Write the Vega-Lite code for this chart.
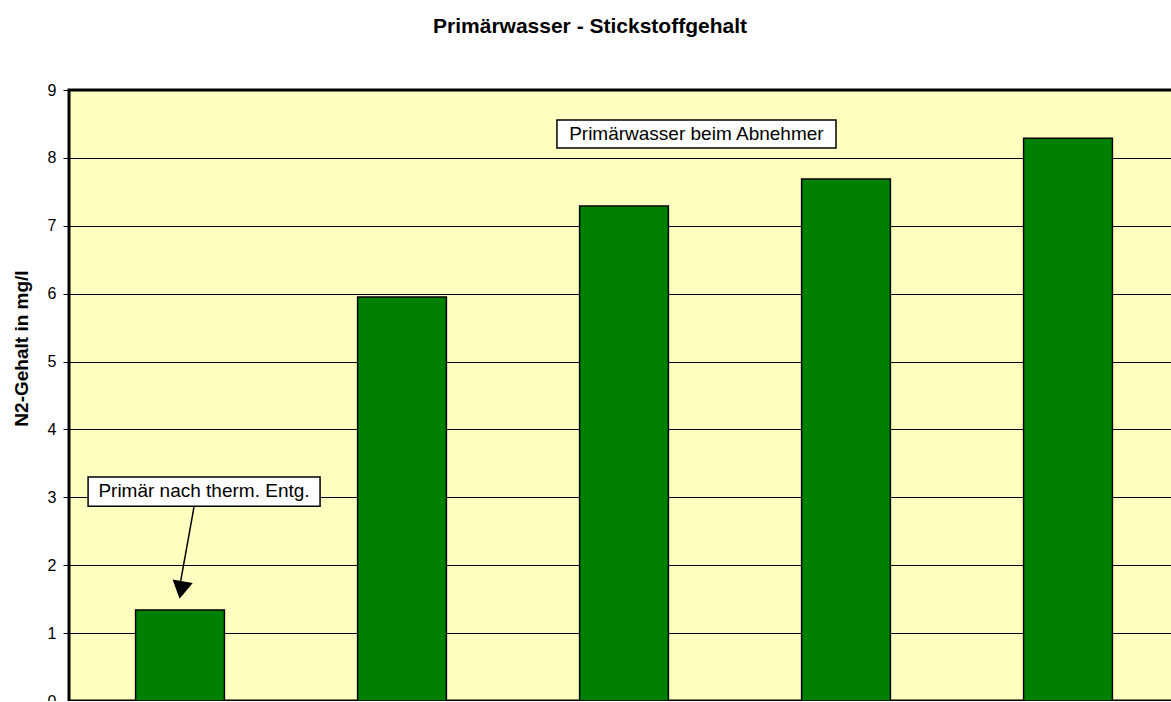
{
  "$schema": "https://vega.github.io/schema/vega-lite/v6.json",
  "autosize": "none",
  "padding": {"left": 69, "top": 90, "right": 0, "bottom": 0},
  "width": 1110,
  "height": 611,
  "background": "white",
  "config": {
    "font": "Liberation Sans",
    "view": {"fill": "#FFFFC0", "stroke": "black", "strokeWidth": 3}
  },
  "title": {
    "text": "Primärwasser - Stickstoffgehalt",
    "font": "Liberation Sans",
    "fontSize": 21,
    "fontWeight": "bold",
    "color": "black",
    "anchor": "middle",
    "frame": "group",
    "dx": -34,
    "baseline": "alphabetic",
    "offset": 28
  },
  "layer": [
    {
      "data": {"values": [
        {"Probe": "1", "N2": 1.34},
        {"Probe": "2", "N2": 5.95},
        {"Probe": "3", "N2": 7.29},
        {"Probe": "4", "N2": 7.69},
        {"Probe": "5", "N2": 8.29}
      ]},
      "mark": {"type": "bar", "fill": "#008000", "stroke": "black", "strokeWidth": 1.5},
      "encoding": {
        "x": {
          "field": "Probe", "type": "nominal", "sort": null,
          "scale": {"paddingInner": 0.6, "paddingOuter": 0.3},
          "axis": {"labels": false, "title": null, "domain": false, "bandPosition": 0, "tickSize": -5, "tickColor": "black", "tickWidth": 1, "grid": false}
        },
        "y": {
          "field": "N2", "type": "quantitative",
          "scale": {"domain": [0, 9], "nice": false},
          "axis": {
            "title": "N2-Gehalt in mg/l",
            "titleFont": "Liberation Sans", "titleFontSize": 19, "titleFontWeight": "bold", "titleColor": "black",
            "titlePadding": 16,
            "titleY": 258,
            "values": [0, 1, 2, 3, 4, 5, 6, 7, 8, 9],
            "format": "d",
            "labelFont": "Liberation Sans", "labelFontSize": 16, "labelColor": "black", "labelPadding": 7,
            "tickSize": 6, "tickColor": "black", "tickWidth": 1,
            "domain": false,
            "grid": true, "gridColor": "black", "gridOpacity": 1, "gridWidth": 1
          }
        }
      }
    },
    {
      "data": {"values": [
        {"x1": 2.198, "x2": 3.455, "y1": 8.558, "y2": 8.146},
        {"x1": 0.086, "x2": 1.131, "y1": 3.30, "y2": 2.87}
      ]},
      "mark": {"type": "rect", "fill": "white", "stroke": "black", "strokeWidth": 1.5},
      "encoding": {
        "x": {"field": "x1", "type": "quantitative", "scale": {"domain": [0, 5], "nice": false, "zero": false}, "axis": null},
        "x2": {"field": "x2"},
        "y": {"field": "y1", "type": "quantitative", "scale": {"domain": [0, 9], "nice": false}},
        "y2": {"field": "y2"}
      }
    },
    {
      "data": {"values": [
        {"tx": 2.826, "ty": 8.352, "label": "Primärwasser beim Abnehmer"},
        {"tx": 0.608, "ty": 3.086, "label": "Primär nach therm. Entg."}
      ]},
      "mark": {"type": "text", "font": "Liberation Sans", "fontSize": 19, "color": "black", "align": "center", "baseline": "middle"},
      "encoding": {
        "x": {"field": "tx", "type": "quantitative", "scale": {"domain": [0, 5], "nice": false, "zero": false}, "axis": null},
        "y": {"field": "ty", "type": "quantitative", "scale": {"domain": [0, 9], "nice": false}},
        "text": {"field": "label"}
      }
    },
    {
      "data": {"values": [
        {"ax": 0.563, "ay": 2.857, "bx": 0.5, "by": 1.709}
      ]},
      "mark": {"type": "rule", "color": "black", "strokeWidth": 1.5},
      "encoding": {
        "x": {"field": "ax", "type": "quantitative", "scale": {"domain": [0, 5], "nice": false, "zero": false}, "axis": null},
        "y": {"field": "ay", "type": "quantitative", "scale": {"domain": [0, 9], "nice": false}},
        "x2": {"field": "bx"},
        "y2": {"field": "by"}
      }
    },
    {
      "data": {"values": [
        {"hx": 0.505, "hy": 1.635}
      ]},
      "mark": {"type": "point", "shape": "triangle-down", "filled": true, "fill": "black", "color": "black", "opacity": 1, "size": 420, "angle": 10},
      "encoding": {
        "x": {"field": "hx", "type": "quantitative", "scale": {"domain": [0, 5], "nice": false, "zero": false}, "axis": null},
        "y": {"field": "hy", "type": "quantitative", "scale": {"domain": [0, 9], "nice": false}}
      }
    }
  ],
  "resolve": {"scale": {"x": "independent"}}
}
